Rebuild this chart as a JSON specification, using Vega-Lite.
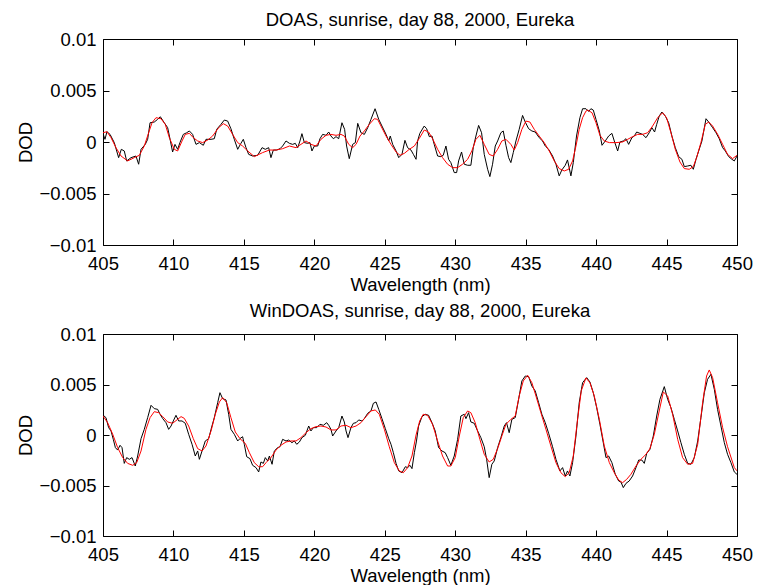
{
  "$schema": "https://vega.github.io/schema/vega-lite/v6.json",
  "background": "white",
  "padding": {"left": 16, "top": 10, "right": 5, "bottom": 0},
  "config": {
    "font": "Liberation Sans",
    "view": {"stroke": null},
    "axis": {"labelFont": "Liberation Sans", "titleFont": "Liberation Sans", "labelFontSize": 18.5, "titleFontSize": 18.5, "titleFontWeight": "normal", "labelColor": "black", "titleColor": "black", "domainColor": "black", "tickColor": "black", "domainWidth": 1, "tickWidth": 1, "grid": false},
    "title": {"font": "Liberation Sans", "fontSize": 18.5, "fontWeight": "normal", "color": "black"},
    "concat": {"spacing": 7}
  },
  "datasets": {
    "doasMeas": [
      {"x":405.02,"y":0.00074},{"x":405.14,"y":0.00026},{"x":405.28,"y":0.00100},{"x":405.50,"y":0.00074},{"x":405.80,"y":-0.00006},{"x":406.11,"y":-0.00152},{"x":406.30,"y":-0.00071},{"x":406.51,"y":-0.00087},{"x":406.68,"y":-0.00184},{"x":406.99,"y":-0.00152},{"x":407.34,"y":-0.00136},{"x":407.53,"y":-0.00216},{"x":407.70,"y":-0.00071},{"x":408.00,"y":-0.00023},{"x":408.17,"y":0.00026},{"x":408.34,"y":0.00187},{"x":408.64,"y":0.00194},{"x":408.88,"y":0.00220},{"x":409.07,"y":0.00245},{"x":409.35,"y":0.00187},{"x":409.59,"y":0.00139},{"x":409.76,"y":0.00026},{"x":409.94,"y":-0.00097},{"x":410.11,"y":-0.00023},{"x":410.30,"y":-0.00071},{"x":410.46,"y":-0.00006},{"x":410.70,"y":0.00074},{"x":410.94,"y":0.00090},{"x":411.13,"y":0.00107},{"x":411.36,"y":0.00074},{"x":411.60,"y":-0.00023},{"x":411.84,"y":-0.00006},{"x":412.12,"y":-0.00032},{"x":412.31,"y":0.00026},{"x":412.67,"y":0.00026},{"x":412.90,"y":0.00032},{"x":413.07,"y":0.00123},{"x":413.37,"y":0.00171},{"x":413.61,"y":0.00213},{"x":413.85,"y":0.00203},{"x":414.08,"y":0.00129},{"x":414.32,"y":0.00026},{"x":414.56,"y":-0.00071},{"x":414.79,"y":-0.00013},{"x":414.96,"y":0.00026},{"x":415.15,"y":-0.00055},{"x":415.34,"y":-0.00120},{"x":415.62,"y":-0.00136},{"x":415.98,"y":-0.00129},{"x":416.29,"y":-0.00055},{"x":416.52,"y":-0.00071},{"x":416.76,"y":-0.00055},{"x":416.92,"y":-0.00152},{"x":417.09,"y":-0.00078},{"x":417.33,"y":-0.00078},{"x":417.56,"y":-0.00065},{"x":417.75,"y":-0.00039},{"x":417.99,"y":0.00010},{"x":418.23,"y":-0.00013},{"x":418.46,"y":-0.00023},{"x":418.65,"y":-0.00013},{"x":418.82,"y":-0.00055},{"x":418.98,"y":0.00010},{"x":419.12,"y":0.00081},{"x":419.29,"y":-0.00006},{"x":419.53,"y":-0.00013},{"x":419.69,"y":-0.00006},{"x":419.83,"y":-0.00087},{"x":420.00,"y":-0.00039},{"x":420.24,"y":-0.00039},{"x":420.40,"y":0.00032},{"x":420.59,"y":0.00074},{"x":420.83,"y":0.00065},{"x":421.02,"y":0.00097},{"x":421.18,"y":0.00058},{"x":421.35,"y":0.00032},{"x":421.54,"y":0.00052},{"x":421.73,"y":0.00032},{"x":421.96,"y":0.00187},{"x":422.15,"y":0.00123},{"x":422.29,"y":-0.00039},{"x":422.48,"y":-0.00162},{"x":422.72,"y":-0.00023},{"x":422.91,"y":-0.00006},{"x":423.08,"y":0.00181},{"x":423.31,"y":0.00090},{"x":423.55,"y":0.00074},{"x":423.79,"y":0.00139},{"x":424.02,"y":0.00220},{"x":424.31,"y":0.00323},{"x":424.57,"y":0.00220},{"x":424.80,"y":0.00155},{"x":425.09,"y":0.00074},{"x":425.28,"y":0.00010},{"x":425.39,"y":0.00058},{"x":425.56,"y":-0.00023},{"x":425.80,"y":-0.00087},{"x":425.99,"y":-0.00152},{"x":426.22,"y":-0.00120},{"x":426.43,"y":0.00016},{"x":426.62,"y":-0.00055},{"x":426.86,"y":-0.00078},{"x":427.03,"y":-0.00120},{"x":427.22,"y":-0.00168},{"x":427.33,"y":0.00010},{"x":427.49,"y":0.00084},{"x":427.80,"y":0.00155},{"x":427.97,"y":0.00129},{"x":428.16,"y":0.00052},{"x":428.35,"y":0.00058},{"x":428.51,"y":-0.00023},{"x":428.75,"y":-0.00136},{"x":428.98,"y":-0.00142},{"x":429.15,"y":-0.00129},{"x":429.34,"y":-0.00039},{"x":429.53,"y":-0.00168},{"x":429.69,"y":-0.00200},{"x":429.93,"y":-0.00297},{"x":430.10,"y":-0.00297},{"x":430.24,"y":-0.00184},{"x":430.45,"y":-0.00097},{"x":430.64,"y":-0.00216},{"x":430.88,"y":-0.00226},{"x":431.11,"y":-0.00226},{"x":431.28,"y":-0.00055},{"x":431.47,"y":0.00058},{"x":431.66,"y":0.00161},{"x":431.87,"y":0.00090},{"x":432.06,"y":-0.00120},{"x":432.30,"y":-0.00265},{"x":432.46,"y":-0.00336},{"x":432.65,"y":-0.00216},{"x":432.84,"y":-0.00039},{"x":433.01,"y":0.00010},{"x":433.24,"y":0.00090},{"x":433.41,"y":0.00107},{"x":433.60,"y":-0.00032},{"x":433.79,"y":-0.00152},{"x":433.95,"y":-0.00200},{"x":434.12,"y":-0.00103},{"x":434.31,"y":0.00010},{"x":434.54,"y":0.00123},{"x":434.78,"y":0.00258},{"x":434.97,"y":0.00194},{"x":435.21,"y":0.00129},{"x":435.44,"y":0.00107},{"x":435.68,"y":0.00097},{"x":435.96,"y":0.00042},{"x":436.20,"y":0.00010},{"x":436.39,"y":-0.00039},{"x":436.63,"y":-0.00071},{"x":436.91,"y":-0.00136},{"x":437.15,"y":-0.00216},{"x":437.38,"y":-0.00329},{"x":437.57,"y":-0.00271},{"x":437.81,"y":-0.00226},{"x":437.97,"y":-0.00174},{"x":438.21,"y":-0.00329},{"x":438.38,"y":-0.00200},{"x":438.61,"y":0.00058},{"x":438.85,"y":0.00236},{"x":439.04,"y":0.00323},{"x":439.28,"y":0.00323},{"x":439.47,"y":0.00297},{"x":439.63,"y":0.00323},{"x":439.80,"y":0.00310},{"x":439.99,"y":0.00220},{"x":440.23,"y":0.00107},{"x":440.42,"y":-0.00032},{"x":440.65,"y":0.00010},{"x":440.89,"y":0.00058},{"x":441.12,"y":0.00084},{"x":441.29,"y":0.00010},{"x":441.53,"y":-0.00087},{"x":441.69,"y":0.00000},{"x":441.93,"y":0.00010},{"x":442.12,"y":0.00032},{"x":442.31,"y":-0.00023},{"x":442.54,"y":0.00042},{"x":442.71,"y":0.00058},{"x":442.88,"y":0.00097},{"x":443.11,"y":0.00084},{"x":443.30,"y":0.00074},{"x":443.54,"y":0.00042},{"x":443.77,"y":0.00090},{"x":443.96,"y":0.00139},{"x":444.15,"y":0.00097},{"x":444.30,"y":0.00171},{"x":444.48,"y":0.00252},{"x":444.67,"y":0.00291},{"x":444.91,"y":0.00252},{"x":445.15,"y":0.00187},{"x":445.38,"y":0.00058},{"x":445.62,"y":-0.00055},{"x":445.86,"y":-0.00142},{"x":446.09,"y":-0.00168},{"x":446.26,"y":-0.00239},{"x":446.50,"y":-0.00233},{"x":446.73,"y":-0.00226},{"x":446.90,"y":-0.00265},{"x":447.09,"y":-0.00168},{"x":447.28,"y":-0.00087},{"x":447.51,"y":0.00010},{"x":447.80,"y":0.00226},{"x":447.99,"y":0.00194},{"x":448.27,"y":0.00139},{"x":448.51,"y":0.00090},{"x":448.74,"y":0.00032},{"x":448.98,"y":-0.00055},{"x":449.17,"y":-0.00087},{"x":449.41,"y":-0.00142},{"x":449.64,"y":-0.00168},{"x":449.81,"y":-0.00184},{"x":450.00,"y":-0.00136}
    ],
    "doasFit": [
      {"x":405.00,"y":0.00090},{"x":405.28,"y":0.00100},{"x":405.57,"y":0.00042},{"x":405.92,"y":-0.00055},{"x":406.28,"y":-0.00136},{"x":406.75,"y":-0.00184},{"x":407.22,"y":-0.00152},{"x":407.58,"y":-0.00129},{"x":407.93,"y":-0.00039},{"x":408.24,"y":0.00090},{"x":408.48,"y":0.00187},{"x":408.76,"y":0.00236},{"x":409.12,"y":0.00226},{"x":409.42,"y":0.00171},{"x":409.71,"y":0.00042},{"x":410.06,"y":-0.00071},{"x":410.30,"y":-0.00087},{"x":410.61,"y":0.00010},{"x":410.84,"y":0.00074},{"x":411.13,"y":0.00084},{"x":411.41,"y":0.00042},{"x":411.72,"y":0.00010},{"x":412.07,"y":-0.00006},{"x":412.43,"y":0.00019},{"x":412.78,"y":0.00058},{"x":413.21,"y":0.00139},{"x":413.54,"y":0.00178},{"x":413.85,"y":0.00155},{"x":414.20,"y":0.00074},{"x":414.56,"y":-0.00006},{"x":414.91,"y":-0.00039},{"x":415.27,"y":-0.00087},{"x":415.74,"y":-0.00142},{"x":416.33,"y":-0.00103},{"x":416.81,"y":-0.00078},{"x":417.28,"y":-0.00078},{"x":417.75,"y":-0.00065},{"x":418.23,"y":-0.00039},{"x":418.70,"y":-0.00055},{"x":419.05,"y":-0.00023},{"x":419.41,"y":0.00010},{"x":419.76,"y":-0.00023},{"x":420.12,"y":-0.00039},{"x":420.47,"y":0.00026},{"x":420.83,"y":0.00065},{"x":421.18,"y":0.00074},{"x":421.54,"y":0.00065},{"x":421.89,"y":0.00074},{"x":422.13,"y":0.00058},{"x":422.44,"y":-0.00023},{"x":422.72,"y":-0.00055},{"x":422.96,"y":-0.00023},{"x":423.24,"y":0.00058},{"x":423.55,"y":0.00107},{"x":423.90,"y":0.00171},{"x":424.26,"y":0.00226},{"x":424.49,"y":0.00220},{"x":424.73,"y":0.00155},{"x":425.09,"y":0.00058},{"x":425.44,"y":-0.00023},{"x":425.80,"y":-0.00097},{"x":426.08,"y":-0.00129},{"x":426.39,"y":-0.00110},{"x":426.74,"y":-0.00071},{"x":427.10,"y":-0.00039},{"x":427.45,"y":0.00035},{"x":427.80,"y":0.00116},{"x":428.11,"y":0.00097},{"x":428.39,"y":0.00032},{"x":428.75,"y":-0.00071},{"x":429.10,"y":-0.00152},{"x":429.46,"y":-0.00216},{"x":429.81,"y":-0.00249},{"x":430.17,"y":-0.00249},{"x":430.52,"y":-0.00216},{"x":430.88,"y":-0.00168},{"x":431.18,"y":-0.00087},{"x":431.47,"y":0.00026},{"x":431.75,"y":0.00065},{"x":432.06,"y":-0.00023},{"x":432.41,"y":-0.00120},{"x":432.70,"y":-0.00136},{"x":433.01,"y":-0.00071},{"x":433.31,"y":0.00010},{"x":433.60,"y":0.00026},{"x":433.95,"y":-0.00023},{"x":434.19,"y":-0.00078},{"x":434.43,"y":-0.00006},{"x":434.73,"y":0.00123},{"x":435.02,"y":0.00203},{"x":435.30,"y":0.00194},{"x":435.61,"y":0.00123},{"x":435.96,"y":0.00058},{"x":436.32,"y":-0.00006},{"x":436.67,"y":-0.00087},{"x":437.03,"y":-0.00184},{"x":437.38,"y":-0.00258},{"x":437.74,"y":-0.00281},{"x":438.05,"y":-0.00265},{"x":438.33,"y":-0.00184},{"x":438.57,"y":-0.00039},{"x":438.80,"y":0.00123},{"x":439.04,"y":0.00236},{"x":439.28,"y":0.00300},{"x":439.40,"y":0.00310},{"x":439.71,"y":0.00284},{"x":439.99,"y":0.00187},{"x":440.27,"y":0.00065},{"x":440.58,"y":0.00010},{"x":440.94,"y":-0.00006},{"x":441.41,"y":-0.00006},{"x":441.88,"y":0.00000},{"x":442.24,"y":0.00026},{"x":442.59,"y":0.00052},{"x":442.95,"y":0.00074},{"x":443.30,"y":0.00074},{"x":443.66,"y":0.00090},{"x":444.01,"y":0.00155},{"x":444.37,"y":0.00236},{"x":444.72,"y":0.00284},{"x":445.00,"y":0.00236},{"x":445.31,"y":0.00090},{"x":445.62,"y":-0.00071},{"x":445.95,"y":-0.00194},{"x":446.26,"y":-0.00258},{"x":446.61,"y":-0.00265},{"x":446.90,"y":-0.00239},{"x":447.13,"y":-0.00152},{"x":447.44,"y":-0.00006},{"x":447.75,"y":0.00171},{"x":447.99,"y":0.00194},{"x":448.27,"y":0.00155},{"x":448.63,"y":0.00074},{"x":448.98,"y":-0.00023},{"x":449.33,"y":-0.00120},{"x":449.69,"y":-0.00161},{"x":450.00,"y":-0.00129}
    ],
    "winMeas": [
      {"x":405.02,"y":0.00195},{"x":405.21,"y":0.00172},{"x":405.40,"y":0.00073},{"x":405.57,"y":0.00040},{"x":405.73,"y":-0.00043},{"x":405.88,"y":-0.00125},{"x":406.04,"y":-0.00149},{"x":406.21,"y":-0.00102},{"x":406.35,"y":-0.00125},{"x":406.51,"y":-0.00281},{"x":406.68,"y":-0.00224},{"x":406.87,"y":-0.00241},{"x":407.06,"y":-0.00224},{"x":407.29,"y":-0.00307},{"x":407.46,"y":-0.00208},{"x":407.70,"y":-0.00036},{"x":407.93,"y":0.00056},{"x":408.17,"y":0.00172},{"x":408.41,"y":0.00294},{"x":408.64,"y":0.00261},{"x":408.88,"y":0.00254},{"x":409.05,"y":0.00205},{"x":409.24,"y":0.00162},{"x":409.47,"y":0.00122},{"x":409.66,"y":0.00056},{"x":409.83,"y":0.00089},{"x":409.99,"y":0.00139},{"x":410.18,"y":0.00195},{"x":410.37,"y":0.00139},{"x":410.61,"y":0.00139},{"x":410.84,"y":0.00116},{"x":411.08,"y":0.00007},{"x":411.32,"y":-0.00092},{"x":411.55,"y":-0.00208},{"x":411.72,"y":-0.00158},{"x":411.84,"y":-0.00241},{"x":412.03,"y":-0.00158},{"x":412.26,"y":-0.00059},{"x":412.50,"y":-0.00036},{"x":412.67,"y":0.00056},{"x":412.90,"y":0.00172},{"x":413.14,"y":0.00320},{"x":413.30,"y":0.00419},{"x":413.49,"y":0.00360},{"x":413.73,"y":0.00347},{"x":413.92,"y":0.00205},{"x":414.08,"y":0.00056},{"x":414.32,"y":0.00007},{"x":414.56,"y":-0.00059},{"x":414.72,"y":-0.00036},{"x":414.91,"y":-0.00017},{"x":415.03,"y":-0.00092},{"x":415.20,"y":-0.00215},{"x":415.43,"y":-0.00234},{"x":415.62,"y":-0.00300},{"x":415.86,"y":-0.00323},{"x":416.05,"y":-0.00366},{"x":416.21,"y":-0.00267},{"x":416.38,"y":-0.00281},{"x":416.52,"y":-0.00224},{"x":416.69,"y":-0.00257},{"x":416.81,"y":-0.00208},{"x":417.00,"y":-0.00290},{"x":417.16,"y":-0.00158},{"x":417.40,"y":-0.00125},{"x":417.56,"y":-0.00116},{"x":417.75,"y":-0.00043},{"x":417.99,"y":-0.00059},{"x":418.18,"y":-0.00050},{"x":418.41,"y":-0.00076},{"x":418.58,"y":-0.00059},{"x":418.75,"y":-0.00092},{"x":418.94,"y":-0.00069},{"x":419.12,"y":-0.00026},{"x":419.36,"y":-0.00003},{"x":419.60,"y":0.00089},{"x":419.76,"y":0.00040},{"x":419.93,"y":0.00073},{"x":420.17,"y":0.00073},{"x":420.40,"y":0.00106},{"x":420.64,"y":0.00096},{"x":420.88,"y":0.00122},{"x":421.02,"y":0.00096},{"x":421.18,"y":0.00056},{"x":421.30,"y":-0.00010},{"x":421.54,"y":0.00040},{"x":421.73,"y":0.00073},{"x":421.96,"y":0.00188},{"x":422.13,"y":0.00129},{"x":422.25,"y":0.00040},{"x":422.39,"y":-0.00026},{"x":422.60,"y":0.00073},{"x":422.77,"y":0.00116},{"x":422.96,"y":0.00122},{"x":423.15,"y":0.00149},{"x":423.38,"y":0.00139},{"x":423.55,"y":0.00162},{"x":423.79,"y":0.00215},{"x":424.02,"y":0.00238},{"x":424.19,"y":0.00314},{"x":424.38,"y":0.00327},{"x":424.57,"y":0.00254},{"x":424.80,"y":0.00162},{"x":425.04,"y":0.00063},{"x":425.28,"y":-0.00036},{"x":425.44,"y":-0.00092},{"x":425.61,"y":-0.00175},{"x":425.80,"y":-0.00281},{"x":425.99,"y":-0.00356},{"x":426.22,"y":-0.00373},{"x":426.46,"y":-0.00314},{"x":426.62,"y":-0.00323},{"x":426.79,"y":-0.00300},{"x":426.93,"y":-0.00333},{"x":427.10,"y":-0.00175},{"x":427.25,"y":-0.00060},{"x":427.40,"y":0.00089},{"x":427.64,"y":0.00182},{"x":427.87,"y":0.00205},{"x":428.11,"y":0.00195},{"x":428.35,"y":0.00122},{"x":428.58,"y":0.00040},{"x":428.82,"y":-0.00125},{"x":429.06,"y":-0.00158},{"x":429.29,"y":-0.00175},{"x":429.46,"y":-0.00224},{"x":429.69,"y":-0.00300},{"x":429.93,"y":-0.00208},{"x":430.17,"y":-0.00043},{"x":430.40,"y":0.00188},{"x":430.64,"y":0.00205},{"x":430.76,"y":0.00162},{"x":430.95,"y":0.00221},{"x":431.11,"y":0.00129},{"x":431.35,"y":0.00116},{"x":431.59,"y":0.00040},{"x":431.82,"y":-0.00026},{"x":432.06,"y":-0.00116},{"x":432.23,"y":-0.00241},{"x":432.41,"y":-0.00422},{"x":432.60,"y":-0.00290},{"x":432.77,"y":-0.00257},{"x":433.01,"y":-0.00125},{"x":433.24,"y":-0.00026},{"x":433.48,"y":0.00089},{"x":433.64,"y":0.00122},{"x":433.83,"y":0.00023},{"x":434.02,"y":0.00155},{"x":434.26,"y":0.00172},{"x":434.50,"y":0.00353},{"x":434.73,"y":0.00535},{"x":434.97,"y":0.00584},{"x":435.21,"y":0.00578},{"x":435.44,"y":0.00485},{"x":435.68,"y":0.00436},{"x":435.92,"y":0.00320},{"x":436.15,"y":0.00205},{"x":436.39,"y":0.00122},{"x":436.63,"y":0.00017},{"x":436.91,"y":-0.00116},{"x":437.15,"y":-0.00241},{"x":437.43,"y":-0.00356},{"x":437.62,"y":-0.00323},{"x":437.81,"y":-0.00406},{"x":437.97,"y":-0.00356},{"x":438.14,"y":-0.00406},{"x":438.33,"y":-0.00274},{"x":438.57,"y":-0.00010},{"x":438.80,"y":0.00320},{"x":439.04,"y":0.00518},{"x":439.33,"y":0.00568},{"x":439.56,"y":0.00525},{"x":439.80,"y":0.00419},{"x":440.04,"y":0.00271},{"x":440.27,"y":0.00106},{"x":440.51,"y":-0.00076},{"x":440.70,"y":-0.00224},{"x":440.89,"y":-0.00208},{"x":441.12,"y":-0.00274},{"x":441.36,"y":-0.00389},{"x":441.60,"y":-0.00455},{"x":441.76,"y":-0.00465},{"x":441.93,"y":-0.00521},{"x":442.12,"y":-0.00479},{"x":442.35,"y":-0.00455},{"x":442.59,"y":-0.00406},{"x":442.83,"y":-0.00323},{"x":443.02,"y":-0.00248},{"x":443.25,"y":-0.00248},{"x":443.42,"y":-0.00281},{"x":443.59,"y":-0.00182},{"x":443.82,"y":-0.00142},{"x":444.06,"y":-0.00010},{"x":444.30,"y":0.00188},{"x":444.53,"y":0.00353},{"x":444.84,"y":0.00479},{"x":445.08,"y":0.00353},{"x":445.31,"y":0.00271},{"x":445.55,"y":0.00155},{"x":445.79,"y":0.00040},{"x":446.02,"y":-0.00076},{"x":446.26,"y":-0.00191},{"x":446.50,"y":-0.00281},{"x":446.73,"y":-0.00290},{"x":446.97,"y":-0.00224},{"x":447.21,"y":-0.00059},{"x":447.44,"y":0.00172},{"x":447.68,"y":0.00419},{"x":447.91,"y":0.00551},{"x":448.15,"y":0.00601},{"x":448.39,"y":0.00452},{"x":448.62,"y":0.00254},{"x":448.86,"y":0.00089},{"x":449.10,"y":-0.00076},{"x":449.33,"y":-0.00191},{"x":449.57,"y":-0.00274},{"x":449.81,"y":-0.00366},{"x":450.00,"y":-0.00390}
    ],
    "winFit": [
      {"x":405.00,"y":0.00188},{"x":405.33,"y":0.00122},{"x":405.69,"y":0.00007},{"x":406.04,"y":-0.00125},{"x":406.40,"y":-0.00224},{"x":406.75,"y":-0.00281},{"x":407.11,"y":-0.00300},{"x":407.39,"y":-0.00274},{"x":407.70,"y":-0.00158},{"x":408.05,"y":0.00056},{"x":408.34,"y":0.00172},{"x":408.64,"y":0.00231},{"x":408.95,"y":0.00221},{"x":409.24,"y":0.00182},{"x":409.59,"y":0.00129},{"x":409.94,"y":0.00116},{"x":410.30,"y":0.00155},{"x":410.54,"y":0.00182},{"x":410.77,"y":0.00165},{"x":411.08,"y":0.00089},{"x":411.41,"y":-0.00036},{"x":411.72,"y":-0.00135},{"x":412.03,"y":-0.00158},{"x":412.31,"y":-0.00109},{"x":412.67,"y":0.00040},{"x":412.97,"y":0.00205},{"x":413.26,"y":0.00327},{"x":413.49,"y":0.00370},{"x":413.78,"y":0.00320},{"x":414.08,"y":0.00172},{"x":414.39,"y":0.00030},{"x":414.72,"y":-0.00036},{"x":415.10,"y":-0.00083},{"x":415.39,"y":-0.00175},{"x":415.74,"y":-0.00274},{"x":416.05,"y":-0.00314},{"x":416.33,"y":-0.00314},{"x":416.57,"y":-0.00274},{"x":416.92,"y":-0.00224},{"x":417.28,"y":-0.00149},{"x":417.63,"y":-0.00102},{"x":417.99,"y":-0.00069},{"x":418.34,"y":-0.00059},{"x":418.70,"y":-0.00059},{"x":419.05,"y":-0.00026},{"x":419.41,"y":0.00023},{"x":419.76,"y":0.00063},{"x":420.12,"y":0.00083},{"x":420.47,"y":0.00089},{"x":420.83,"y":0.00079},{"x":421.18,"y":0.00050},{"x":421.54,"y":0.00050},{"x":421.89,"y":0.00089},{"x":422.25,"y":0.00096},{"x":422.60,"y":0.00073},{"x":422.96,"y":0.00089},{"x":423.31,"y":0.00122},{"x":423.67,"y":0.00182},{"x":424.02,"y":0.00238},{"x":424.33,"y":0.00248},{"x":424.61,"y":0.00205},{"x":424.97,"y":0.00056},{"x":425.32,"y":-0.00116},{"x":425.68,"y":-0.00274},{"x":426.03,"y":-0.00356},{"x":426.32,"y":-0.00373},{"x":426.62,"y":-0.00323},{"x":426.93,"y":-0.00208},{"x":427.22,"y":0.00000},{"x":427.48,"y":0.00140},{"x":427.73,"y":0.00205},{"x":428.04,"y":0.00195},{"x":428.39,"y":0.00106},{"x":428.75,"y":-0.00059},{"x":429.10,"y":-0.00208},{"x":429.46,"y":-0.00307},{"x":429.69,"y":-0.00307},{"x":430.00,"y":-0.00224},{"x":430.29,"y":-0.00010},{"x":430.57,"y":0.00172},{"x":430.88,"y":0.00238},{"x":431.11,"y":0.00221},{"x":431.42,"y":0.00122},{"x":431.75,"y":-0.00043},{"x":432.06,"y":-0.00191},{"x":432.41,"y":-0.00267},{"x":432.70,"y":-0.00241},{"x":433.01,"y":-0.00135},{"x":433.31,"y":-0.00010},{"x":433.60,"y":0.00106},{"x":433.95,"y":0.00155},{"x":434.26,"y":0.00188},{"x":434.54,"y":0.00386},{"x":434.83,"y":0.00535},{"x":435.14,"y":0.00591},{"x":435.44,"y":0.00518},{"x":435.73,"y":0.00386},{"x":436.08,"y":0.00221},{"x":436.44,"y":0.00056},{"x":436.79,"y":-0.00109},{"x":437.15,"y":-0.00274},{"x":437.50,"y":-0.00373},{"x":437.81,"y":-0.00413},{"x":438.09,"y":-0.00373},{"x":438.38,"y":-0.00208},{"x":438.68,"y":0.00150},{"x":438.95,"y":0.00440},{"x":439.28,"y":0.00565},{"x":439.56,"y":0.00518},{"x":439.87,"y":0.00386},{"x":440.23,"y":0.00155},{"x":440.58,"y":-0.00109},{"x":440.94,"y":-0.00274},{"x":441.29,"y":-0.00373},{"x":441.60,"y":-0.00446},{"x":441.88,"y":-0.00472},{"x":442.17,"y":-0.00439},{"x":442.47,"y":-0.00389},{"x":442.83,"y":-0.00307},{"x":443.18,"y":-0.00241},{"x":443.54,"y":-0.00191},{"x":443.82,"y":-0.00135},{"x":444.13,"y":0.00007},{"x":444.48,"y":0.00238},{"x":444.77,"y":0.00426},{"x":445.08,"y":0.00386},{"x":445.43,"y":0.00205},{"x":445.79,"y":-0.00043},{"x":446.14,"y":-0.00224},{"x":446.50,"y":-0.00290},{"x":446.85,"y":-0.00281},{"x":447.21,"y":-0.00092},{"x":447.56,"y":0.00320},{"x":447.84,"y":0.00584},{"x":448.03,"y":0.00644},{"x":448.27,"y":0.00568},{"x":448.62,"y":0.00320},{"x":448.98,"y":0.00073},{"x":449.33,"y":-0.00116},{"x":449.81,"y":-0.00323},{"x":450.00,"y":-0.00355}
    ]
  },
  "vconcat": [
    {
      "width": 634,
      "height": 206,
      "title": {"text": "DOAS, sunrise, day 88, 2000, Eureka", "offset": 1},
      "layer": [
        {
          "data": {"name": "doasMeas"},
          "mark": {"type": "line", "color": "black", "strokeWidth": 1, "clip": true},
          "encoding": {
            "x": {"field": "x", "type": "quantitative", "scale": {"domain": [405, 450], "nice": false, "zero": false},
                  "axis": {"orient": "bottom", "values": [405, 410, 415, 420, 425, 430, 435, 440, 445, 450], "tickSize": -6, "labelPadding": 15, "labelFlush": false, "title": "Wavelength (nm)", "titlePadding": 3}},
            "y": {"field": "y", "type": "quantitative", "scale": {"domain": [-0.01, 0.01], "nice": false},
                  "axis": {"orient": "left", "values": [-0.01, -0.005, 0, 0.005, 0.01], "format": "~g", "tickSize": -6, "labelPadding": 13, "title": "DOD", "titlePadding": 3}}
          }
        },
        {
          "data": {"name": "doasFit"},
          "mark": {"type": "line", "color": "#ff0000", "strokeWidth": 1, "clip": true},
          "encoding": {
            "x": {"field": "x", "type": "quantitative", "scale": {"domain": [405, 450], "nice": false, "zero": false},
                  "axis": {"orient": "top", "values": [405, 410, 415, 420, 425, 430, 435, 440, 445, 450], "tickSize": -6, "labels": false, "title": null}},
            "y": {"field": "y", "type": "quantitative", "scale": {"domain": [-0.01, 0.01], "nice": false},
                  "axis": {"orient": "right", "values": [-0.01, -0.005, 0, 0.005, 0.01], "tickSize": -6, "labels": false, "title": null}}
          }
        }
      ],
      "resolve": {"axis": {"x": "independent", "y": "independent"}}
    },
    {
      "width": 634,
      "height": 202,
      "title": {"text": "WinDOAS, sunrise, day 88, 2000, Eureka", "offset": 5},
      "layer": [
        {
          "data": {"name": "winMeas"},
          "mark": {"type": "line", "color": "black", "strokeWidth": 1, "clip": true},
          "encoding": {
            "x": {"field": "x", "type": "quantitative", "scale": {"domain": [405, 450], "nice": false, "zero": false},
                  "axis": {"orient": "bottom", "values": [405, 410, 415, 420, 425, 430, 435, 440, 445, 450], "tickSize": -6, "labelPadding": 15, "labelFlush": false, "title": "Wavelength (nm)", "titlePadding": 3}},
            "y": {"field": "y", "type": "quantitative", "scale": {"domain": [-0.01, 0.01], "nice": false},
                  "axis": {"orient": "left", "values": [-0.01, -0.005, 0, 0.005, 0.01], "format": "~g", "tickSize": -6, "labelPadding": 13, "title": "DOD", "titlePadding": 3}}
          }
        },
        {
          "data": {"name": "winFit"},
          "mark": {"type": "line", "color": "#ff0000", "strokeWidth": 1, "clip": true},
          "encoding": {
            "x": {"field": "x", "type": "quantitative", "scale": {"domain": [405, 450], "nice": false, "zero": false},
                  "axis": {"orient": "top", "values": [405, 410, 415, 420, 425, 430, 435, 440, 445, 450], "tickSize": -6, "labels": false, "title": null}},
            "y": {"field": "y", "type": "quantitative", "scale": {"domain": [-0.01, 0.01], "nice": false},
                  "axis": {"orient": "right", "values": [-0.01, -0.005, 0, 0.005, 0.01], "tickSize": -6, "labels": false, "title": null}}
          }
        }
      ],
      "resolve": {"axis": {"x": "independent", "y": "independent"}}
    }
  ]
}
